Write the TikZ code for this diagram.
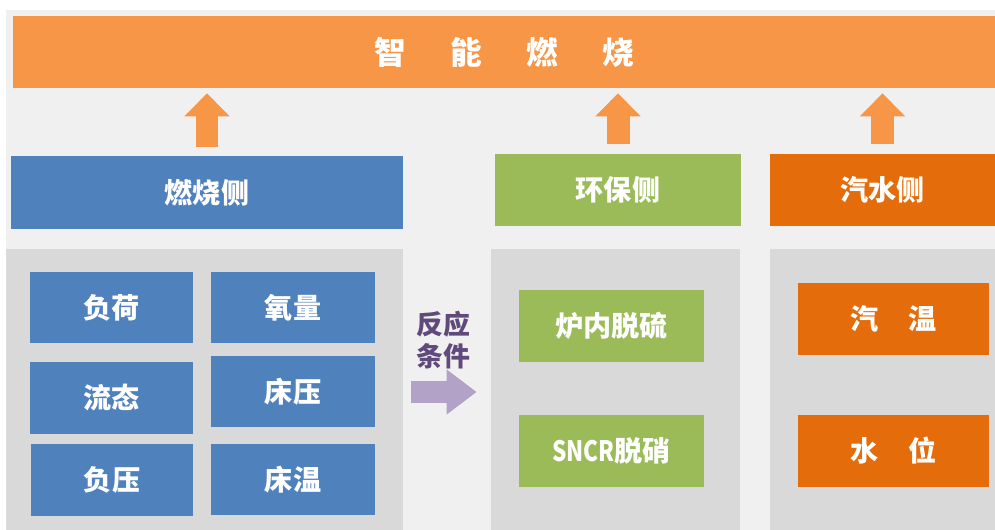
\documentclass[tikz,border=0pt]{standalone}
\usepackage{fontspec}
\setmainfont{Noto Sans CJK SC}
\usepackage{tikz}
\usetikzlibrary{arrows.meta}
\usepackage{xcolor}
\definecolor{TopOrange}{HTML}{F79646}
\definecolor{BurnBlue}{HTML}{4F81BD}
\definecolor{EnvGreen}{HTML}{9BBB59}
\definecolor{WaterOrange}{HTML}{E46C0A}
\definecolor{PanelGray}{HTML}{D9D9D9}
\definecolor{BackGray}{HTML}{F0F0F0}
\definecolor{CondPurple}{HTML}{B3A2C7}
\definecolor{CondText}{HTML}{604A7B}

\begin{document}
\begin{tikzpicture}[x=0.02cm, y=-0.02cm,
    box/.style={inner sep=0pt, text=white, font=\fontsize{16}{18}\selectfont\bfseries},
    head/.style={box, minimum height=1.45cm},
    item/.style={box, minimum height=1.44cm, minimum width=3.28cm, fill=BurnBlue},
    panel/.style={inner sep=0pt, fill=PanelGray},
    uparrow/.style={TopOrange, line width=0.46cm, -{Triangle[width=0.88cm, length=0.46cm]}}]
\fill[white] (0,0) rectangle (995,530);
\fill[BackGray] (6,10) rectangle (995,530);
% top bar
\node[box, fill=TopOrange, minimum width=19.64cm, minimum height=1.44cm, font=\fontsize{18}{20}\selectfont\bfseries] (smart) at (504,52) {\raisebox{-0.06cm}{智\hspace{1.4em}能\hspace{1.4em}燃\hspace{1.4em}烧}};
% three sides
\node[head, fill=BurnBlue, minimum width=7.84cm] (burn) at (207,192.5) {燃烧侧};
\node[head, fill=EnvGreen, minimum width=4.92cm] (env) at (618,190) {环保侧};
\node[head, fill=WaterOrange, minimum width=4.5cm] (water) at (882.5,190) {汽水侧};
\foreach \s in {burn,env,water}
    \draw[uparrow] ([yshift=0.18cm]\s.north) -- ([yshift=-0.1cm]smart.south -| \s.north);
% panels
\node[panel, minimum width=7.94cm, minimum height=5.62cm] (burnpanel) at (204.5,389.5) {};
\node[panel, minimum width=4.98cm, minimum height=5.62cm] (envpanel) at (615.5,389.5) {};
\node[panel, minimum width=4.5cm, minimum height=5.62cm] (waterpanel) at (882.5,389.5) {};
% combustion items
\node[item] (load) at (111.5,307.5) {负荷};
\node[item] (oxygen) at (293,307.5) {氧量};
\node[item] (flow) at (111.5,398) {流态};
\node[item] (bedp) at (293,391.5) {床压};
\node[item, minimum width=3.24cm] (negp) at (112,480) {负压};
\node[item] (bedt) at (293,479.5) {床温};
% environment items
\node[item, fill=EnvGreen, minimum width=3.7cm] (desulf) at (611.5,326) {炉内脱硫};
\node[item, fill=EnvGreen, minimum width=3.7cm] (denox) at (611.5,451) {\scalebox{0.8}[1]{SNCR}脱硝};
% steam-water items
\node[item, fill=WaterOrange, minimum width=3.82cm] (steamt) at (893.5,319) {汽\hspace{1.05em}温};
\node[item, fill=WaterOrange, minimum width=3.82cm] (level) at (893.5,451) {水\hspace{1.05em}位};
% reaction conditions
\node[align=center, inner sep=0pt, text=CondText, font=\fontsize{15.3}{18}\selectfont\bfseries] (cond) at (443,340) {反应\\条件};
\draw[CondPurple, line width=0.44cm, -{Triangle[width=0.86cm, length=0.6cm]}]
    ([xshift=0.16cm]burnpanel.east |- 0,392) -- ([xshift=-0.28cm]envpanel.west |- 0,392);
\end{tikzpicture}
\end{document}
